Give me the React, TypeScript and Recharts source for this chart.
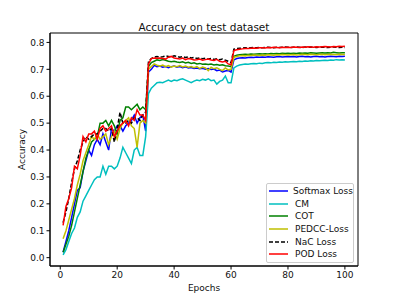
import { Label, Legend, Line, LineChart, ReferenceArea, XAxis, YAxis } from "recharts";

const epochs = Array.from({ length: 100 }, (_, i) => i + 1);

const softmaxLoss = [
  0.02, 0.06, 0.10, 0.15, 0.20, 0.25, 0.26, 0.32, 0.36, 0.40,
  0.38, 0.42, 0.44, 0.42, 0.46, 0.43, 0.40, 0.48, 0.47, 0.49,
  0.49, 0.47, 0.49, 0.50, 0.51, 0.53, 0.50, 0.52, 0.53, 0.47,
  0.69, 0.70, 0.715, 0.71, 0.712, 0.708, 0.71, 0.706, 0.71, 0.712,
  0.708, 0.71, 0.706, 0.709, 0.705, 0.707, 0.703, 0.705, 0.702, 0.704,
  0.70, 0.703, 0.699, 0.701, 0.695, 0.697, 0.69, 0.694, 0.696, 0.69,
  0.735, 0.74, 0.742, 0.743, 0.742, 0.744, 0.745, 0.744, 0.746, 0.745,
  0.746, 0.745, 0.747, 0.746, 0.745, 0.747, 0.748, 0.746, 0.747, 0.748,
  0.747, 0.748, 0.746, 0.748, 0.749, 0.747, 0.748, 0.746, 0.748, 0.749,
  0.747, 0.748, 0.746, 0.748, 0.749, 0.748, 0.747, 0.749, 0.748, 0.749,
];

const cm = [
  0.01, 0.03, 0.06, 0.09, 0.11, 0.15, 0.17, 0.21, 0.23, 0.25,
  0.27, 0.29, 0.30, 0.30, 0.34, 0.31, 0.34, 0.34, 0.33, 0.34,
  0.37, 0.41, 0.39, 0.37, 0.35, 0.40, 0.41, 0.38, 0.38, 0.45,
  0.61, 0.63, 0.64, 0.65, 0.652, 0.65, 0.655, 0.66, 0.655, 0.66,
  0.658, 0.662, 0.665, 0.66, 0.655, 0.65, 0.656, 0.66, 0.658, 0.663,
  0.66, 0.665, 0.658, 0.66, 0.645, 0.655, 0.66, 0.675, 0.65, 0.65,
  0.705, 0.712, 0.716, 0.718, 0.72, 0.719, 0.721, 0.722, 0.721, 0.723,
  0.722, 0.724, 0.725, 0.724, 0.726, 0.725, 0.727, 0.726, 0.728, 0.727,
  0.728, 0.729, 0.728, 0.73, 0.729, 0.731, 0.73, 0.732, 0.731, 0.733,
  0.732, 0.733, 0.734, 0.733, 0.735, 0.734, 0.736, 0.735, 0.736, 0.735,
];

const cot = [
  0.02, 0.05, 0.08, 0.12, 0.17, 0.22, 0.27, 0.32, 0.37, 0.40,
  0.43, 0.44, 0.45, 0.50, 0.50, 0.51, 0.49, 0.51, 0.49, 0.46,
  0.51, 0.52, 0.56, 0.56, 0.55, 0.56, 0.57, 0.55, 0.56, 0.55,
  0.71, 0.725, 0.73, 0.735, 0.733, 0.736, 0.734, 0.73, 0.728, 0.73,
  0.727, 0.725, 0.728, 0.724, 0.726, 0.722, 0.724, 0.72, 0.722, 0.719,
  0.72, 0.718, 0.72, 0.716, 0.718, 0.715, 0.717, 0.713, 0.712, 0.71,
  0.748, 0.752, 0.754, 0.755, 0.756, 0.755, 0.757, 0.756, 0.757, 0.758,
  0.757, 0.758, 0.757, 0.759, 0.758, 0.759, 0.758, 0.76, 0.759, 0.76,
  0.759, 0.76, 0.759, 0.761, 0.76, 0.761, 0.76, 0.762, 0.761, 0.76,
  0.761, 0.762, 0.761, 0.762, 0.761, 0.763, 0.762, 0.761, 0.762, 0.762,
];

const pedccLoss = [
  0.07, 0.10, 0.14, 0.18, 0.22, 0.27, 0.31, 0.36, 0.39, 0.42,
  0.45, 0.44, 0.46, 0.44, 0.45, 0.46, 0.42, 0.45, 0.47, 0.44,
  0.48, 0.50, 0.51, 0.52, 0.49, 0.48, 0.41, 0.50, 0.51, 0.50,
  0.70, 0.71, 0.72, 0.715, 0.712, 0.716, 0.71, 0.714, 0.708, 0.712,
  0.71, 0.714, 0.709, 0.712, 0.708, 0.71, 0.706, 0.71, 0.703, 0.708,
  0.705, 0.695, 0.708, 0.702, 0.706, 0.70, 0.695, 0.705, 0.698, 0.70,
  0.745, 0.748, 0.75, 0.751, 0.75, 0.752, 0.751, 0.753, 0.752, 0.751,
  0.753, 0.752, 0.754, 0.753, 0.752, 0.754, 0.753, 0.755, 0.754, 0.753,
  0.754, 0.755, 0.753, 0.754, 0.756, 0.755, 0.754, 0.756, 0.755, 0.754,
  0.755, 0.756, 0.754, 0.755, 0.756, 0.755, 0.754, 0.756, 0.755, 0.755,
];

const nacLoss = [
  0.13, 0.17, 0.22, 0.28, 0.33, 0.36, 0.40, 0.43, 0.45, 0.44,
  0.45, 0.46, 0.46, 0.47, 0.48, 0.48, 0.47, 0.48, 0.43, 0.48,
  0.54, 0.50, 0.50, 0.51, 0.50, 0.52, 0.52, 0.51, 0.53, 0.54,
  0.73, 0.74, 0.745, 0.748, 0.745, 0.747, 0.75, 0.748, 0.746, 0.75,
  0.748, 0.745, 0.747, 0.744, 0.746, 0.742, 0.744, 0.74, 0.742, 0.739,
  0.741, 0.738, 0.74, 0.737, 0.739, 0.736, 0.738, 0.734, 0.73, 0.725,
  0.775, 0.777, 0.778, 0.779, 0.78, 0.779, 0.78, 0.781, 0.78, 0.781,
  0.78, 0.781, 0.782, 0.781, 0.78, 0.782, 0.781, 0.782, 0.783, 0.782,
  0.781, 0.782, 0.783, 0.782, 0.781, 0.783, 0.782, 0.783, 0.782, 0.781,
  0.782, 0.783, 0.782, 0.781, 0.782, 0.783, 0.782, 0.781, 0.782, 0.781,
];

const podLoss = [
  0.12, 0.19, 0.22, 0.26, 0.34, 0.33, 0.38, 0.45, 0.43, 0.46,
  0.46, 0.47, 0.44, 0.48, 0.49, 0.47, 0.48, 0.49, 0.45, 0.47,
  0.49, 0.50, 0.51, 0.49, 0.52, 0.51, 0.55, 0.53, 0.53, 0.51,
  0.72, 0.74, 0.742, 0.741, 0.742, 0.74, 0.738, 0.745, 0.748, 0.742,
  0.74, 0.738, 0.742, 0.736, 0.74, 0.738, 0.735, 0.736, 0.738, 0.734,
  0.736, 0.738, 0.735, 0.733, 0.737, 0.73, 0.727, 0.73, 0.72, 0.717,
  0.77, 0.773, 0.775, 0.776, 0.777, 0.777, 0.778, 0.779, 0.778, 0.78,
  0.78, 0.779, 0.781, 0.78, 0.782, 0.781, 0.78, 0.782, 0.781, 0.782,
  0.781, 0.783, 0.782, 0.781, 0.783, 0.782, 0.784, 0.783, 0.782, 0.784,
  0.783, 0.784, 0.785, 0.784, 0.783, 0.785, 0.784, 0.786, 0.785, 0.786,
];

const xTicks = [0, 20, 40, 60, 80, 100];
const yTicks = [0, 0.1, 0.2, 0.3, 0.4, 0.5, 0.6, 0.7, 0.8];
const xDomain = [-3.6, 104.6];
const yDomain = [-0.031, 0.835];

const series = [
  { key: "softmax", name: "Softmax Loss", color: "#0000ff", dash: undefined },
  { key: "cm", name: "CM", color: "#00bfbf", dash: undefined },
  { key: "cot", name: "COT", color: "#008000", dash: undefined },
  { key: "pedcc", name: "PEDCC-Loss", color: "#bfbf00", dash: undefined },
  { key: "nac", name: "NaC Loss", color: "#000000", dash: "4 2" },
  { key: "pod", name: "POD Loss", color: "#ff0000", dash: undefined },
];

const data = epochs.map((epoch, i) => ({
  epoch,
  softmax: softmaxLoss[i],
  cm: cm[i],
  cot: cot[i],
  pedcc: pedccLoss[i],
  nac: nacLoss[i],
  pod: podLoss[i],
}));

const FONT = "'DejaVu Sans', sans-serif";
const tickStyle = { fontSize: 9, fill: "#111", fontFamily: FONT };

function LegendBox() {
  return (
    <div
      style={{
        width: 86,
        height: 77,
        border: "1px solid #cccccc",
        borderRadius: 2,
        background: "rgba(255,255,255,0.8)",
        fontFamily: FONT,
        fontSize: 9,
        color: "#111",
        paddingTop: 1,
        boxSizing: "content-box",
      }}
    >
      {series.map((s) => (
        <div key={s.key} style={{ display: "flex", alignItems: "center", height: 12.6 }}>
          <svg width={26} height={6} style={{ marginLeft: 2 }}>
            <line
              x1={0}
              y1={3}
              x2={19}
              y2={3}
              stroke={s.color}
              strokeWidth={1.5}
              strokeDasharray={s.dash}
            />
          </svg>
          <span style={{ whiteSpace: "nowrap" }}>{s.name}</span>
        </div>
      ))}
    </div>
  );
}

export default function App() {
  return (
    <div style={{ position: "absolute", left: 0, top: 0, width: 399, height: 299, background: "#fff" }}>
      <div
        style={{
          position: "absolute",
          left: 50,
          width: 308,
          top: 20,
          textAlign: "center",
          fontFamily: FONT,
          fontSize: 10.5,
          color: "#111",
          lineHeight: "14px",
        }}
      >
        Accuracy on test dataset
      </div>
      <LineChart width={399} height={299} data={data} margin={{ top: 33, right: 41, bottom: 0, left: 0 }}>
        <XAxis
          dataKey="epoch"
          type="number"
          domain={xDomain}
          allowDataOverflow
          ticks={xTicks}
          tickSize={3.5}
          tickMargin={2}
          height={33}
          stroke="#000"
          tick={tickStyle}
        >
          <Label value="Epochs" position="center" dy={5} style={{ fontSize: 9, fill: "#111", fontFamily: FONT }} />
        </XAxis>
        <YAxis
          type="number"
          domain={yDomain}
          allowDataOverflow
          ticks={yTicks}
          tickFormatter={(v) => Number(v).toFixed(1)}
          tickSize={3.5}
          tickMargin={2}
          width={50}
          stroke="#000"
          tick={tickStyle}
        >
          <Label value="Accuracy" angle={-90} position="center" dx={-3} style={{ fontSize: 9, fill: "#111", fontFamily: FONT }} />
        </YAxis>
        {series.map((s) => (
          <Line
            key={s.key}
            type="linear"
            dataKey={s.key}
            name={s.name}
            stroke={s.color}
            strokeWidth={1.5}
            strokeDasharray={s.dash}
            dot={false}
            isAnimationActive={false}
          />
        ))}
        {/* axes frame, like matplotlib's spines */}
        <ReferenceArea
          x1={xDomain[0]}
          x2={xDomain[1]}
          y1={yDomain[0]}
          y2={yDomain[1]}
          fill="none"
          stroke="#000"
          strokeWidth={1}
          ifOverflow="visible"
        />
        <Legend
          layout="vertical"
          align="center"
          verticalAlign="middle"
          content={() => <LegendBox />}
          wrapperStyle={{ position: "absolute", left: 266, top: 183, width: 88 }}
        />
      </LineChart>
    </div>
  );
}
